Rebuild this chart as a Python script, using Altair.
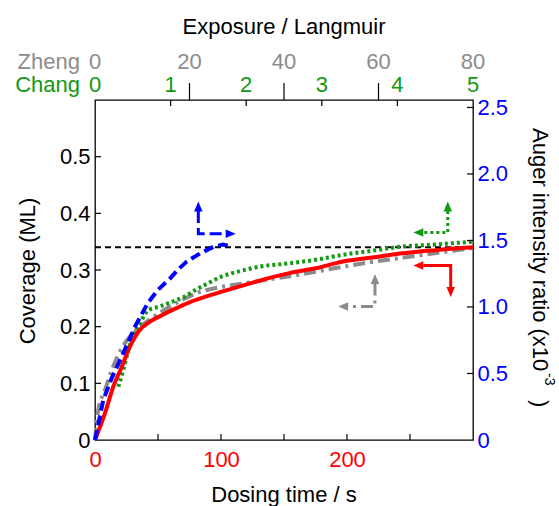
import altair as alt
import pandas as pd

FONT = "Liberation Sans"
RED = "#ff0000"
BLUE = "#0000ff"
GREEN = "#119911"
GRAY = "#8c8c8c"
FS = 22

# ---------------- data ----------------
# Red (dosing time / s vs coverage / ML)
red_t = [0, 7.9, 14.5, 21.2, 27.8, 34.4, 43.7, 52, 62, 75, 95, 115, 135, 155, 175, 197, 220, 242, 270, 300]
red_c = [0, 0.047, 0.094, 0.129, 0.165, 0.191, 0.209, 0.219, 0.23, 0.243, 0.258, 0.271, 0.284, 0.295,
         0.303, 0.315, 0.322, 0.329, 0.335, 0.34]

# Gray (Zheng) coverage
gray_t = [0, 2.6, 7.9, 12, 17.2, 23.8, 33, 45, 60, 83, 100, 120, 140, 160, 190, 216, 245, 268, 300]
gray_c = [0, 0.053, 0.088, 0.115, 0.144, 0.171, 0.194, 0.215, 0.236, 0.261, 0.27, 0.277, 0.284,
          0.291, 0.303, 0.313, 0.322, 0.329, 0.339]

# Green (Chang) coverage
green_t = [18.5, 22.5, 26.5, 30.4, 35.7, 42.3, 52, 60, 70, 80, 90, 100, 115, 131, 155, 175, 197, 220,
           242, 270, 300]
green_c = [0.094, 0.124, 0.159, 0.185, 0.206, 0.229, 0.236, 0.243, 0.252, 0.265, 0.277, 0.288, 0.298,
           0.306, 0.312, 0.318, 0.327, 0.334, 0.341, 0.345, 0.35]

# Blue: Auger intensity ratio (x10^-3)
blue_t = [0, 6.6, 13.2, 21.2, 31.7, 42, 50, 59.5, 66, 72.8, 83.3, 94, 101.8, 107]
blue_a = [0, 0.302, 0.464, 0.626, 0.852, 1.031, 1.129, 1.214, 1.282, 1.342, 1.402, 1.453, 1.470, 1.457]

# saturation reference line
hline_t = [0, 300]
hline_c = [0.34, 0.34]

# axes
bottom_labels = [0, 100, 200]
bottom_ticks = [50, 100, 150, 200, 250]
left_labels = [0, 0.1, 0.2, 0.3, 0.4, 0.5]
left_ticks = [0.1, 0.2, 0.3, 0.4, 0.5]
right_labels = [0, 0.5, 1.0, 1.5, 2.0, 2.5]
right_ticks = [0.5, 1.0, 1.5, 2.0, 2.5]
zheng_labels = [0, 20, 40, 60, 80]
zheng_ticks = [20, 40, 60]
chang_labels = [0, 1, 2, 3, 4, 5]
chang_ticks = [1, 2, 3, 4]

# arrows (in dosing time / coverage units)
arrow_blue_t = [82, 82, 103.7]
arrow_blue_c = [0.404, 0.364, 0.364]
arrow_green_t = [280, 280, 260.6]
arrow_green_c = [0.404, 0.366, 0.366]
arrow_red_t = [260.6, 282.3, 282.3]
arrow_red_c = [0.308, 0.308, 0.270]
arrow_gray_t = [222.2, 222.2, 200.9]
arrow_gray_c = [0.276, 0.2355, 0.2355]

head_t = [82, 107.7, 280, 256.6, 256.6, 282.3, 222.2, 196.9]
head_c = [0.412, 0.364, 0.412, 0.366, 0.308, 0.261, 0.284, 0.2355]
head_series = ["Auger", "Auger", "Chang", "Chang", "Dosing", "Dosing", "Zheng", "Zheng"]
head_dir = ["up", "right", "up", "left", "left", "down", "up", "left"]

# ---------------- scales ----------------
X = alt.Scale(domain=[0, 300], nice=False, zero=False)
YC = alt.Scale(domain=[0, 0.6], nice=False, zero=False)
YA = alt.Scale(domain=[0, 2.556], nice=False, zero=False)
XZ = alt.Scale(domain=[0, 80], nice=False, zero=False)
XC = alt.Scale(domain=[0, 5], nice=False, zero=False)

LABEL_EXPR = "datum.value == 0 ? '0' : format(datum.value, '.1f')"


def xa(f="t", scale=X):
    return alt.X(f"{f}:Q", scale=scale, axis=None)


def yc(f="c", scale=YC):
    return alt.Y(f"{f}:Q", scale=scale, axis=None)


layers = []

# black dashed line
layers.append(alt.Chart(pd.DataFrame({"t": hline_t, "c": hline_c})).mark_line(
    color="black", strokeWidth=2, strokeDash=[6, 4]).encode(x=xa(), y=yc()))

# gray dash-dot
layers.append(alt.Chart(pd.DataFrame({"t": gray_t, "c": gray_c})).mark_line(
    color=GRAY, strokeWidth=4, strokeDash=[12, 5, 3, 5], interpolate="monotone").encode(x=xa(), y=yc()))

# green dotted
layers.append(alt.Chart(pd.DataFrame({"t": green_t, "c": green_c})).mark_line(
    color=GREEN, strokeWidth=4, strokeDash=[3, 3], interpolate="monotone").encode(x=xa(), y=yc()))

# red solid, carries bottom and left axes
layers.append(alt.Chart(pd.DataFrame({"t": red_t, "c": red_c})).mark_line(
    color=RED, strokeWidth=4, interpolate="monotone").encode(
    x=alt.X("t:Q", scale=X, axis=alt.Axis(
        orient="bottom", values=bottom_labels, format="d", labelColor=RED, labelFont=FONT,
        labelFontSize=FS, labelPadding=9, ticks=False, domain=False, grid=False, title=None,
        labelFlush=False)),
    y=alt.Y("c:Q", scale=YC, axis=alt.Axis(
        orient="left", values=left_labels, labelExpr=LABEL_EXPR, labelColor="black", labelFont=FONT,
        labelFontSize=FS, labelPadding=5, ticks=False, domain=False, grid=False, title=None,
        labelFlush=False))))

# blue dashed, carries right axis
layers.append(alt.Chart(pd.DataFrame({"t": blue_t, "a": blue_a})).mark_line(
    color=BLUE, strokeWidth=4, strokeDash=[10, 5]).encode(
    x=xa(),
    y=alt.Y("a:Q", scale=YA, axis=alt.Axis(
        orient="right", values=right_labels, labelExpr=LABEL_EXPR, labelColor=BLUE, labelFont=FONT,
        labelFontSize=FS, labelPadding=4, ticks=False, domain=False, grid=False, title=None,
        labelFlush=False))))

# arrows
for t, c, col, dash in [
    (arrow_blue_t, arrow_blue_c, BLUE, [12, 5]),
    (arrow_green_t, arrow_green_c, GREEN, [3, 3]),
    (arrow_red_t, arrow_red_c, RED, None),
    (arrow_gray_t, arrow_gray_c, GRAY, [12, 5, 3, 5]),
]:
    kw = dict(color=col, strokeWidth=3)
    if dash:
        kw["strokeDash"] = dash
    layers.append(alt.Chart(pd.DataFrame({"t": t, "c": c, "i": list(range(len(t)))})).mark_line(**kw).encode(
        x=xa(), y=yc(), order="i:Q"))

SHAPES = {
    "up": "M0,-1L-0.85,1L0.85,1Z",
    "down": "M0,1L-0.85,-1L0.85,-1Z",
    "left": "M-1,0L1,-0.85L1,0.85Z",
    "right": "M1,0L-1,-0.85L-1,0.85Z",
}
layers.append(alt.Chart(pd.DataFrame({"t": head_t, "c": head_c, "s": head_series, "d": head_dir})).mark_point(
    filled=True, opacity=1, size=100, strokeWidth=0).encode(
    x=xa(), y=yc(),
    color=alt.Color("s:N", scale=alt.Scale(domain=["Auger", "Chang", "Dosing", "Zheng"],
                                           range=[BLUE, GREEN, RED, GRAY]), legend=None),
    shape=alt.Shape("d:N", scale=alt.Scale(domain=list(SHAPES.keys()), range=list(SHAPES.values())),
                    legend=None)))

# inward ticks
layers.append(alt.Chart(pd.DataFrame({"v": bottom_ticks})).mark_rule(color="black", strokeWidth=1.2).encode(
    x=xa("v"), y=alt.value(340), y2=alt.value(334)))
layers.append(alt.Chart(pd.DataFrame({"v": left_ticks})).mark_rule(color="black", strokeWidth=1.2).encode(
    y=yc("v"), x=alt.value(0), x2=alt.value(6)))
layers.append(alt.Chart(pd.DataFrame({"v": right_ticks})).mark_rule(color="black", strokeWidth=1.2).encode(
    y=yc("v", YA), x=alt.value(378), x2=alt.value(372)))
layers.append(alt.Chart(pd.DataFrame({"v": chang_ticks})).mark_rule(color="black", strokeWidth=1.2).encode(
    x=xa("v", XC), y=alt.value(0), y2=alt.value(6)))
layers.append(alt.Chart(pd.DataFrame({"v": zheng_ticks})).mark_rule(color="black", strokeWidth=1.2).encode(
    x=xa("v", XZ), y=alt.value(0), y2=alt.value(-17)))

# top axis labels
layers.append(alt.Chart(pd.DataFrame({"v": zheng_labels})).mark_text(
    font=FONT, fontSize=FS, color=GRAY, baseline="alphabetic", align="center").encode(
    x=xa("v", XZ), y=alt.value(-31), text="v:Q"))
layers.append(alt.Chart(pd.DataFrame({"v": chang_labels})).mark_text(
    font=FONT, fontSize=FS, color=GREEN, baseline="alphabetic", align="center").encode(
    x=xa("v", XC), y=alt.value(-8), text="v:Q"))


def label(text, x, y, color="black", size=FS, angle=0, align="center"):
    kw = dict(font=FONT, fontSize=size, color=color, baseline="alphabetic", align=align)
    if angle:
        kw["angle"] = angle
    return alt.Chart(pd.DataFrame({"s": [text]})).mark_text(**kw).encode(
        text="s:N", x=alt.value(x), y=alt.value(y))


layers.append(label("Zheng", -15, -31, GRAY, align="right"))
layers.append(label("Chang", -15, -8, GREEN, align="right"))
layers.append(label("Exposure / Langmuir", 189, -66))
layers.append(label("Dosing time / s", 189, 402))
layers.append(label("Coverage (ML)", -60, 171, angle=270))
layers.append(label("Auger intensity ratio (x10", 438, 28, angle=90, align="left"))
layers.append(label("-3", 450, 273, size=14, angle=90, align="left"))
layers.append(label(")", 438, 300, angle=90, align="left"))

chart = alt.layer(*layers).resolve_scale(x="independent", y="independent").properties(
    width=378, height=340,
    autosize=alt.AutoSizeParams(type="none"),
    padding={"left": 95, "top": 100, "right": 86, "bottom": 66},
).configure_view(stroke="black", strokeWidth=1.3).configure_axis(grid=False)

chart.save("out.html", embed_options={"renderer": "svg", "actions": False})
